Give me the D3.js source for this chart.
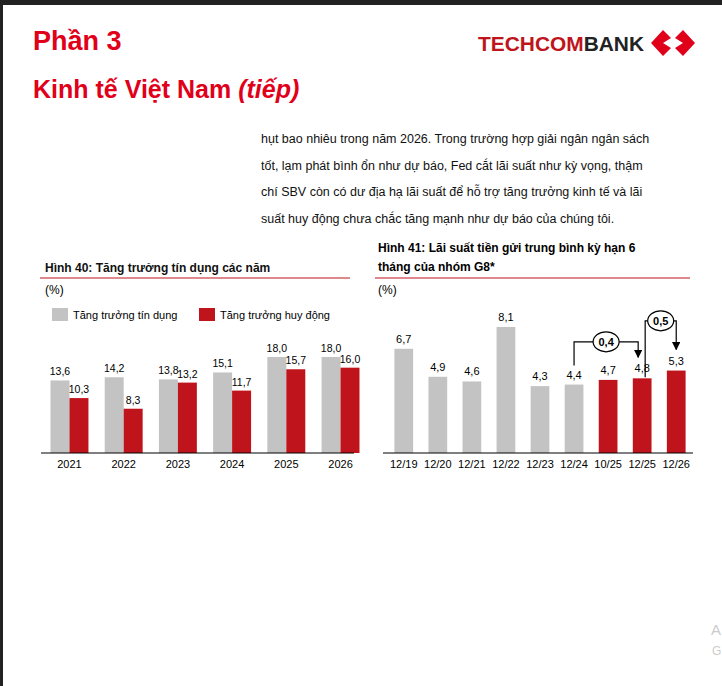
<!DOCTYPE html>
<html><head><meta charset="utf-8">
<script src="https://cdn.jsdelivr.net/npm/d3@7/dist/d3.min.js"></script>
<style>body{margin:0;background:#222}svg{display:block}</style>
</head><body><svg id="c" width="722" height="686"></svg>
<script>
const years=["2021","2022","2023","2024","2025","2026"];
const credit=[13.6,14.2,13.8,15.1,18.0,18.0];
const deposit=[10.3,8.3,13.2,11.7,15.7,16.0];
const periods=["12/19","12/20","12/21","12/22","12/23","12/24","10/25","12/25","12/26"];
const rates=[6.7,4.9,4.6,8.1,4.3,4.4,4.7,4.8,5.3];
const forecastFrom=6;
const fmt=v=>d3.format(".1f")(v).replace(".",",");
const RED="#c0141c",GRAY="#c3c3c3",TR="#e1001a";
const svg=d3.select("#c");
svg.append("rect").attr("x",3).attr("y",5).attr("width",719).attr("height",681).attr("fill","#fff");
const F="Liberation Sans, Arial, sans-serif";
svg.append("text").attr("x",33).attr("y",50).attr("font-family",F).attr("font-weight","bold").attr("font-size",27).attr("fill",TR).text("Phần 3");
const t2=svg.append("text").attr("x",33).attr("y",98).attr("font-family",F).attr("font-weight","bold").attr("font-size",25).attr("fill",TR);
t2.append("tspan").text("Kinh tế Việt Nam ");t2.append("tspan").attr("font-style","italic").text("(tiếp)");
const lg=svg.append("text").attr("x",478).attr("y",51).attr("font-family","'Liberation Sans Narrow', "+F).attr("font-weight","bold").attr("font-size",21).attr("textLength",166).attr("lengthAdjust","spacingAndGlyphs");
lg.append("tspan").attr("fill",RED).text("TECHCOM");lg.append("tspan").attr("fill","#222").text("BANK");
svg.append("path").attr("d","M651,43 L663,30 L671,38 L663,43 L671,48 L663,56 Z M695,43 L683,30 L675,38 L683,43 L675,48 L683,56 Z").attr("fill",TR);
const para=["hụt bao nhiêu trong năm 2026. Trong trường hợp giải ngân ngân sách","tốt, lạm phát bình ổn như dự báo, Fed cắt lãi suất như kỳ vọng, thậm","chí SBV còn có dư địa hạ lãi suất để hỗ trợ tăng trưởng kinh tế và lãi","suất huy động chưa chắc tăng mạnh như dự báo của chúng tôi."];
para.forEach((p,i)=>svg.append("text").attr("x",261).attr("y",143+i*26.5).attr("font-family",F).attr("font-size",12.5).attr("fill","#111").text(p));
svg.append("text").attr("x",711).attr("y",635).attr("font-family",F).attr("font-size",15).attr("fill","#ccc").text("A");
svg.append("text").attr("x",712).attr("y",655).attr("font-family",F).attr("font-size",12).attr("fill","#ccc").text("G");

// Left chart
const L=svg.append("g");
L.append("text").attr("x",45).attr("y",272).attr("font-family",F).attr("font-weight","bold").attr("font-size",12).attr("fill","#111").text("Hình 40: Tăng trưởng tín dụng các năm");
L.append("line").attr("x1",40).attr("x2",350).attr("y1",278).attr("y2",278).attr("stroke",RED).attr("stroke-width",1.2);
L.append("text").attr("x",45).attr("y",294).attr("font-family",F).attr("font-size",12).text("(%)");
[[GRAY,"Tăng trưởng tín dụng",52],[RED,"Tăng trưởng huy động",199]].forEach(([c,t,x])=>{
 L.append("rect").attr("x",x).attr("y",308).attr("width",16).attr("height",13).attr("fill",c);
 L.append("text").attr("x",x+21).attr("y",319).attr("font-family",F).attr("font-size",11).text(t);});
const x0=d3.scaleBand().domain(years).range([44,366]).paddingInner(0.3).paddingOuter(0.12);
const x1=d3.scaleBand().domain([0,1]).range([0,x0.bandwidth()]);
const y0=d3.scaleLinear().domain([0,18]).range([453,357]);
years.forEach((yr,i)=>{[credit[i],deposit[i]].forEach((v,j)=>{
 const x=x0(yr)+x1(j);
 L.append("rect").attr("x",x).attr("y",y0(v)).attr("width",x1.bandwidth()).attr("height",453-y0(v)).attr("fill",j?RED:GRAY);
 L.append("text").attr("x",x+x1.bandwidth()/2).attr("y",y0(v)-5).attr("text-anchor","middle").attr("font-family",F).attr("font-size",10.5).text(fmt(v));});});
const ax0=L.append("g").attr("transform","translate(0,453)").call(d3.axisBottom(x0).tickSize(0).tickPadding(7));
ax0.select(".domain").attr("d","M41,0H354").attr("stroke","#000");
ax0.selectAll("text").attr("font-family",F).attr("font-size",11).attr("fill","#000");

// Right chart
const R=svg.append("g");
R.append("text").attr("x",378).attr("y",252).attr("font-family",F).attr("font-weight","bold").attr("font-size",12).text("Hình 41: Lãi suất tiền gửi trung bình kỳ hạn 6");
R.append("text").attr("x",378).attr("y",271).attr("font-family",F).attr("font-weight","bold").attr("font-size",12).text("tháng của nhóm G8*");
R.append("line").attr("x1",375).attr("x2",690).attr("y1",278).attr("y2",278).attr("stroke",RED).attr("stroke-width",1.2);
R.append("text").attr("x",378).attr("y",294).attr("font-family",F).attr("font-size",12).text("(%)");
const xb=d3.scaleBand().domain(periods).range([391,689]).paddingInner(0.45).paddingOuter(0.1);
const yb=d3.scaleLinear().domain([0,8.1]).range([453,327]);
periods.forEach((p,i)=>{const v=rates[i];
 R.append("rect").attr("x",xb(p)).attr("y",yb(v)).attr("width",xb.bandwidth()).attr("height",453-yb(v)).attr("fill",i>=forecastFrom?RED:GRAY);
 R.append("text").attr("x",xb(p)+xb.bandwidth()/2).attr("y",yb(v)-6).attr("text-anchor","middle").attr("font-family",F).attr("font-size",11).text(fmt(v));});
const axb=R.append("g").attr("transform","translate(0,453)").call(d3.axisBottom(xb).tickSize(0).tickPadding(7));
axb.select(".domain").attr("d","M383,0H693").attr("stroke","#000");
axb.selectAll("text").attr("font-family",F).attr("font-size",11).attr("fill","#000");
svg.append("defs").append("marker").attr("id","ar").attr("viewBox","0 0 10 10").attr("refX",9).attr("refY",5).attr("markerWidth",7).attr("markerHeight",7).attr("orient","auto").append("path").attr("d","M0,0L10,5L0,10Z").attr("fill","#000");
function ann(a,b,lvl,label,dxa,dya,dxb){
 const xa=xb(periods[a])+xb.bandwidth()/2+dxa, xc=xb(periods[b])+xb.bandwidth()/2+dxb;
 const ya=yb(rates[a])-dya, top=yb(lvl);
 R.append("path").attr("d",`M${xa},${ya}V${top}H${xc}V${yb(rates[b])-21}`).attr("fill","none").attr("stroke","#000").attr("stroke-width",1.2).attr("marker-end","url(#ar)");
 const cx=(xa+xc)/2;
 R.append("ellipse").attr("cx",cx).attr("cy",top).attr("rx",13).attr("ry",10).attr("fill","#fff").attr("stroke","#000").attr("stroke-width",1.2);
 R.append("text").attr("x",cx).attr("y",top+4).attr("text-anchor","middle").attr("font-family",F).attr("font-weight","bold").attr("font-size",11).text(label);}
ann(5,7,7.15,fmt(rates[7]-rates[5]),0,19,-4);
ann(7,8,8.5,fmt(rates[8]-rates[7]),3,1,0);
</script></body></html>
